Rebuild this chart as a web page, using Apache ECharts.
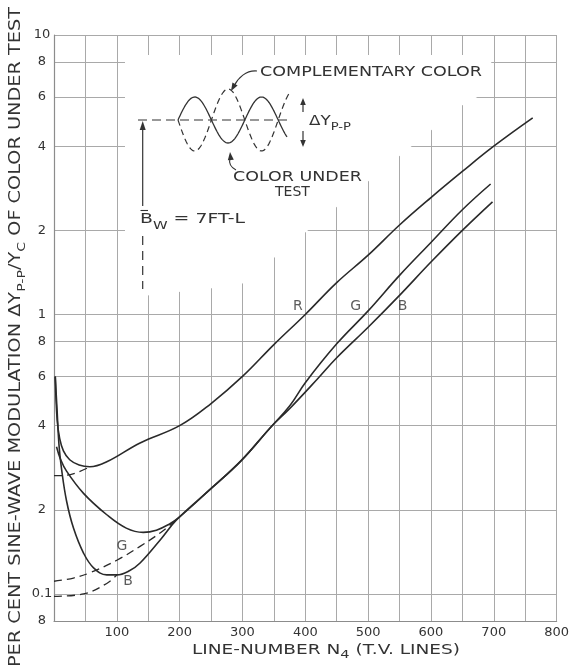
<!DOCTYPE html>
<html>
<head>
<meta charset="utf-8">
<script src="https://cdn.jsdelivr.net/npm/echarts@6/dist/echarts.min.js"></script>
<style>
  html, body { margin: 0; padding: 0; background: #fff; }
  #chart { width: 572px; height: 670px; }
</style>
</head>
<body>
<div id="chart"></div>
<script>
// Line-number axis (T.V. lines)
const xMin = 0;
const xMax = 800;
const xStep = 50;

// Modulation axis (log): gridline values and the figures printed beside them
const yTickValues = [0.08, 0.1, 0.2, 0.4, 0.6, 0.8, 1, 2, 4, 6, 8, 10];
const yTickLabels = ['8', '0.1', '2', '4', '6', '8', '1', '2', '4', '6', '8', '10'];

// Measured threshold curves: [line number, per cent modulation]
const redCurve = [[2, 0.60], [5, 0.42], [9, 0.36], [15, 0.325], [25, 0.302], [40, 0.289], [57, 0.285],
  [84, 0.297], [137, 0.347], [200, 0.40], [250, 0.48], [300, 0.60], [350, 0.78], [400, 1.0],
  [450, 1.30], [500, 1.63], [550, 2.09], [600, 2.62], [650, 3.25], [700, 4.0], [762, 5.05]];
const redExtrap = [[0, 0.265], [10, 0.265], [33, 0.27], [57, 0.285]];

const greenCurve = [[4, 0.336], [10, 0.305], [20, 0.275], [47, 0.229], [84, 0.192], [115, 0.172],
  [142, 0.166], [163, 0.169], [184, 0.178], [198, 0.187], [248, 0.236], [298, 0.30], [345, 0.395],
  [375, 0.47], [400, 0.57], [450, 0.785], [500, 1.03], [550, 1.38], [600, 1.81], [650, 2.37], [695, 2.93]];
const greenExtrap = [[0, 0.111], [31, 0.114], [57, 0.119], [100, 0.132], [137, 0.148], [170, 0.166], [198, 0.187]];

const blueCurve = [[2, 0.60], [5, 0.45], [8, 0.34], [12, 0.28], [20, 0.215], [31, 0.172], [47, 0.140],
  [63, 0.124], [84, 0.117], [100, 0.117], [120, 0.121], [137, 0.129], [170, 0.157], [195, 0.184],
  [248, 0.236], [298, 0.30], [345, 0.395], [375, 0.46], [420, 0.59], [450, 0.70], [500, 0.90],
  [550, 1.17], [600, 1.54], [650, 2.0], [698, 2.53]];
const blueExtrap = [[0, 0.098], [47, 0.100], [84, 0.109], [100, 0.117]];

// Curve letters and where they sit
const curveLetters = ['R', 'G', 'B', 'G', 'B'];
const letterN = [388, 480, 555, 108, 118];
const letterV = [1.066, 1.066, 1.066, 0.148, 0.111];

// ---------------------------------------------------------------------------
const INK = '#333333';
const CURVE = '#2a2a2a';
const GRID = '#a9a9a9';
const FRAME = '#8c8c8c';
const FONT = '"DejaVu Sans"';

function yLabel(v) {
  let best = 0, bestD = Infinity;
  yTickValues.forEach((t, i) => {
    const d = Math.abs(Math.log(v / t));
    if (d < bestD) { bestD = d; best = i; }
  });
  return yTickLabels[best];
}

function curve(data, dashed) {
  return {
    type: 'line', data, symbol: 'none', showSymbol: false,
    smooth: 0.4, silent: true, z: 3,
    lineStyle: { color: CURVE, width: dashed ? 1.3 : 1.6, type: dashed ? [8, 5] : 'solid' }
  };
}

const chart = echarts.init(document.getElementById('chart'));
chart.setOption({
  animation: false,
  backgroundColor: '#ffffff',
  grid: { left: 54, right: 14, top: 35, bottom: 49 },
  xAxis: {
    type: 'value', min: xMin, max: xMax, interval: xStep,
    axisLine: { show: true, onZero: false, lineStyle: { color: FRAME, width: 1.2 } },
    axisTick: { show: false },
    splitLine: { show: true, lineStyle: { color: GRID, width: 1 } },
    axisLabel: {
      formatter: v => (v > 0 && v % 100 === 0) ? String(v) : '',
      color: INK, fontFamily: FONT, fontSize: 13, margin: 5
    }
  },
  yAxis: {
    type: 'log', logBase: 10, min: yTickValues[0], max: yTickValues[yTickValues.length - 1],
    axisLine: { show: true, onZero: false, lineStyle: { color: FRAME, width: 1.2 } },
    axisTick: { show: false, customValues: yTickValues },
    splitLine: { show: true, lineStyle: { color: GRID, width: 1 } },
    axisLabel: {
      customValues: yTickValues, formatter: yLabel, align: 'center', margin: 12,
      color: INK, fontFamily: FONT, fontSize: 13
    }
  },
  series: [
    curve(redCurve, false), curve(redExtrap, true),
    curve(greenCurve, false), curve(greenExtrap, true),
    curve(blueCurve, false), curve(blueExtrap, true),
    {
      type: 'scatter', silent: true, z: 4, symbolSize: 1,
      itemStyle: { color: 'rgba(0,0,0,0)' },
      data: curveLetters.map((t, i) => [letterN[i], letterV[i], t]),
      label: { show: true, position: 'inside', formatter: p => p.data[2], color: INK, fontFamily: FONT, fontSize: 14 }
    }
  ]
});

// ---------------------------------------------------------------------------
// Blank patch behind the inset sketch (outline in axis units)
const blankOutline = [[113, 8.48], [696, 8.48], [696, 7.5], [674, 6.0], [648, 5.57], [297, 1.275], [113, 1.146]];

const measure = document.createElement('canvas').getContext('2d');
function textWidth(str, size) {
  measure.font = size + 'px ' + FONT;
  return measure.measureText(str).width;
}
// A run of lettering: pieces [text, size, drop], stretched to a given width
function lettering(pieces, x, y, width, rotation) {
  let cx = 0;
  const children = pieces.map(([t, size, drop]) => {
    const el = { type: 'text', z: 10, x: cx, y: drop, style: { text: t, font: size + 'px ' + FONT, fill: INK, align: 'left', verticalAlign: 'middle' } };
    cx += textWidth(t, size);
    return el;
  });
  return { type: 'group', x, y, rotation: rotation || 0, scaleX: width ? width / cx : 1, children, z: 10 };
}
function arrowHead(tip, angle, len, half) {
  const dx = Math.cos(angle), dy = Math.sin(angle);
  const bx = tip[0] - dx * len, by = tip[1] - dy * len;
  return { type: 'polygon', z: 10, shape: { points: [tip, [bx - dy * half, by + dx * half], [bx + dy * half, by - dx * half]] }, style: { fill: INK } };
}
function wave(x0, x1, mid, amp, half) {
  const pts = [];
  for (let x = x0; x <= x1; x += 1) pts.push([x, mid - amp * Math.sin(Math.PI * (x - x0) / half)]);
  return pts;
}
function line(points, width, dash) {
  return { type: 'polyline', z: 10, shape: { points }, style: { stroke: INK, lineWidth: width, lineDash: dash || null, fill: null } };
}

const toPx = p => chart.convertToPixel({ gridIndex: 0 }, p);

const elements = [
  { type: 'polygon', z: 1, silent: true, shape: { points: blankOutline.map(toPx) }, style: { fill: '#ffffff' } },

  // reference level and the two opposed sine waves
  line([[138, 120], [291, 120]], 1.2, [9, 5]),
  line(wave(178, 287, 120, 23, 33.4), 1.3),
  line(wave(178, 290, 120, -31, 33.4), 1.2, [6, 4]),

  // peak-to-peak arrows
  line([[303, 104], [303, 112]], 1.2), arrowHead([303, 98], -Math.PI / 2, 7, 2.8),
  line([[303, 131], [303, 141]], 1.2), arrowHead([303, 147], Math.PI / 2, 7, 2.8),
  lettering([['ΔY', 14, 0], ['P-P', 11, 6]], 309, 121, 42),

  // callouts
  lettering([['COMPLEMENTARY COLOR', 14, 0]], 260, 72, 222),
  { type: 'bezierCurve', z: 10, shape: { x1: 257, y1: 71, cpx1: 246, cpy1: 70, cpx2: 238, cpy2: 78, x2: 234, y2: 86 }, style: { stroke: INK, lineWidth: 1.1, fill: null } },
  arrowHead([231, 91], 2.1, 8, 3),
  lettering([['COLOR UNDER', 14, 0]], 233, 177, 129),
  lettering([['TEST', 14, 0]], 275, 192, 0),
  { type: 'bezierCurve', z: 10, shape: { x1: 236, y1: 170, cpx1: 230, cpy1: 167, cpx2: 229, cpy2: 162, x2: 230, y2: 158 }, style: { stroke: INK, lineWidth: 1.1, fill: null } },
  arrowHead([230, 152], -Math.PI / 2 - 0.1, 8, 3),

  // white-level arrow and label
  line([[142.7, 206], [142.7, 128]], 1.2), arrowHead([142.7, 121], -Math.PI / 2, 9, 3),
  line([[142.7, 236], [142.7, 289]], 1.2, [9, 6]),
  line([[140.5, 210.5], [148, 210.5]], 1.1),
  lettering([['B', 14, 0], ['W', 11, 7], [' = 7FT-L', 14, 0]], 140, 219, 105),

  // axis titles
  lettering([['LINE-NUMBER N', 14, 0], ['4', 11, 5], [' (T.V. LINES)', 14, 0]], 192, 650, 268),
  lettering([['PER CENT SINE-WAVE MODULATION ΔY', 15, 0], ['P-P', 11, 6], ['/Y', 15, 0], ['C', 11, 6], [' OF COLOR UNDER TEST', 15, 0]], 16.5, 667, 660, Math.PI / 2)
];

chart.setOption({ graphic: { elements } });
</script>
</body>
</html>
